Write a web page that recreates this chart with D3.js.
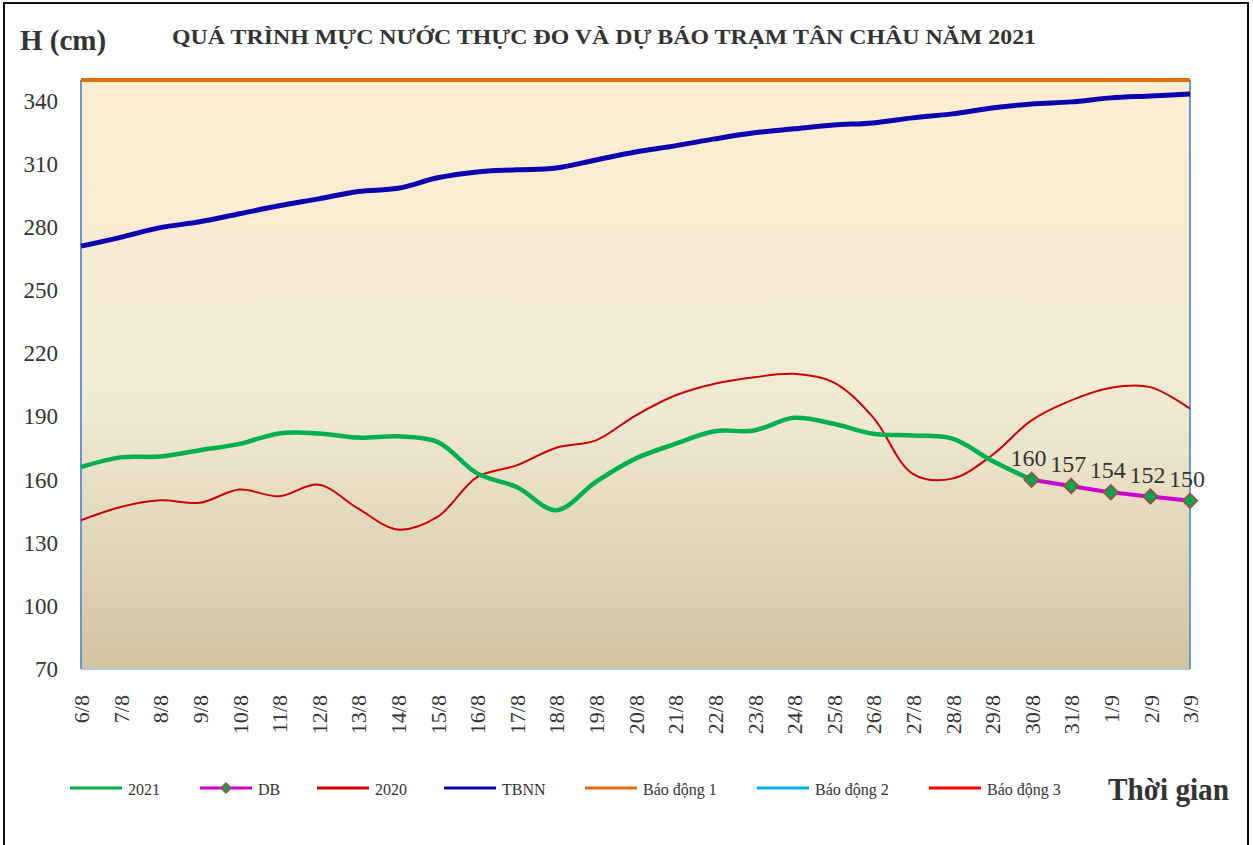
<!DOCTYPE html>
<html>
<head>
<meta charset="utf-8">
<script src="https://cdn.jsdelivr.net/npm/d3@7"></script>
<style>
  body { margin: 0; background: #fff; }
  svg text { font-family: "Liberation Serif", "Times New Roman", serif; fill: #333; }
</style>
</head>
<body>
<svg id="chart" width="1253" height="845"></svg>
<script>
// ngày quan trắc
const days = ["6/8", "7/8", "8/8", "9/8", "10/8", "11/8", "12/8", "13/8", "14/8", "15/8",
  "16/8", "17/8", "18/8", "19/8", "20/8", "21/8", "22/8", "23/8", "24/8", "25/8",
  "26/8", "27/8", "28/8", "29/8", "30/8", "31/8", "1/9", "2/9", "3/9"];

// thực đo 2021 (6/8 -> 30/8)
const h2021 = [166, 170.6, 171, 174, 177, 182, 182, 180, 180.6, 178, 163, 156.5, 145.5,
  159, 170, 177, 183, 183.4, 189.4, 186.6, 181.8, 181, 179.5, 169, 160];
// dự báo (30/8 -> 3/9)
const dbDays = ["30/8", "31/8", "1/9", "2/9", "3/9"];
const hDB = [160, 157, 154, 152, 150];
// năm 2020
const h2020 = [140.7, 147, 150.2, 149, 155.3, 152.1, 157.6, 146.2, 136.3, 142.3, 161.2,
  166.8, 175.2, 178.7, 190.5, 200, 205.6, 208.7, 210.3, 206.3, 189.6, 162.8, 160.5,
  171.6, 188.2, 197.7, 203.7, 204, 193.7];
// trung bình nhiều năm
const tbnn = [271, 275.2, 279.8, 282.6, 286.4, 290.2, 293.5, 297, 298.5, 303.5, 306.3,
  307.3, 308.2, 312, 315.8, 318.7, 322, 324.9, 326.8, 328.6, 329.6, 332, 333.9, 336.7,
  338.6, 339.6, 341.5, 342.4, 343.4];
// mức báo động
const alarms = [350, 400, 450];
const yTicks = [70, 100, 130, 160, 190, 220, 250, 280, 310, 340];

const svg = d3.select("#chart");

// khung ngoài
svg.append("rect")
  .attr("x", 4).attr("y", 3).attr("width", 1244).attr("height", 860)
  .attr("fill", "none").attr("stroke", "#111").attr("stroke-width", 2);

const x = d3.scalePoint().domain(days).range([81, 1190]);
const y = d3.scaleLinear().domain([70, 350]).range([669, 80]);

const defs = svg.append("defs");
const grad = defs.append("linearGradient")
  .attr("id", "bg").attr("x1", 0).attr("y1", 0).attr("x2", 0).attr("y2", 1);
grad.append("stop").attr("offset", "0%").attr("stop-color", "#fdeed1");
grad.append("stop").attr("offset", "55%").attr("stop-color", "#f1ead5");
grad.append("stop").attr("offset", "100%").attr("stop-color", "#d2c4a0");

defs.append("clipPath").attr("id", "clip")
  .append("rect").attr("x", 79).attr("y", 76).attr("width", 1114).attr("height", 596);

svg.append("rect")
  .attr("x", 81).attr("y", y(350)).attr("width", 1190 - 81).attr("height", y(70) - y(350))
  .attr("fill", "url(#bg)");

// trục
svg.append("line").attr("x1", 81).attr("x2", 1190).attr("y1", y(70)).attr("y2", y(70))
  .attr("stroke", "#b4c4d8").attr("stroke-width", 2);
svg.append("line").attr("x1", 81).attr("x2", 81).attr("y1", y(350)).attr("y2", y(70))
  .attr("stroke", "#6b97cf").attr("stroke-width", 2);
svg.append("line").attr("x1", 1190).attr("x2", 1190).attr("y1", y(350)).attr("y2", y(70))
  .attr("stroke", "#6b97cf").attr("stroke-width", 2);

const yAxis = svg.append("g")
  .attr("transform", "translate(58,0)")
  .call(d3.axisLeft(y).tickValues(yTicks).tickSize(0).tickPadding(0));
yAxis.select(".domain").remove();
yAxis.selectAll("text")
  .style("font-size", "23px")
  .style("font-family", "'Liberation Serif', serif")
  .attr("fill", "#333");

const xAxis = svg.append("g")
  .attr("transform", "translate(0,695)")
  .call(d3.axisBottom(x).tickSize(0));
xAxis.select(".domain").remove();
xAxis.selectAll("text")
  .style("font-size", "22px")
  .style("font-family", "'Liberation Serif', serif")
  .attr("fill", "#333")
  .attr("text-anchor", "end")
  .attr("transform", "rotate(-90)")
  .attr("x", 0)
  .attr("y", 0)
  .attr("dx", 0)
  .attr("dy", "0.35em");

const line = d3.line()
  .x((d) => x(d[0]))
  .y((d) => y(d[1]))
  .curve(d3.curveCatmullRom.alpha(0.5));

const plot = svg.append("g").attr("clip-path", "url(#clip)");

plot.append("path")
  .attr("d", line(days.map((d, i) => [d, h2020[i]])))
  .attr("fill", "none").attr("stroke", "#cc0000").attr("stroke-width", 2);

plot.append("path")
  .attr("d", line(days.map((d, i) => [d, tbnn[i]])))
  .attr("fill", "none").attr("stroke", "#0c00ae").attr("stroke-width", 5);

plot.append("path")
  .attr("d", line(h2021.map((v, i) => [days[i], v])))
  .attr("fill", "none").attr("stroke", "#00b050").attr("stroke-width", 4.5);

plot.append("path")
  .attr("d", line(dbDays.map((d, i) => [d, hDB[i]])))
  .attr("fill", "none").attr("stroke", "#cc00cc").attr("stroke-width", 4);

const alarmColors = ["#e46c0a", "#00b0f0", "#ff0000"];
alarms.forEach((a, i) => {
  plot.append("line")
    .attr("x1", 81).attr("x2", 1190).attr("y1", y(a)).attr("y2", y(a))
    .attr("stroke", alarmColors[i]).attr("stroke-width", 4);
});

const diamond = d3.symbol().type(d3.symbolSquare).size(110);
svg.selectAll(".db-pt")
  .data(dbDays.map((d, i) => [d, hDB[i]]))
  .join("path")
  .attr("class", "db-pt")
  .attr("d", diamond)
  .attr("transform", (d) => `translate(${x(d[0])},${y(d[1])}) rotate(45)`)
  .attr("fill", "#00a651").attr("stroke", "#b0443f").attr("stroke-width", 1.5);

svg.selectAll(".db-lbl")
  .data(dbDays.map((d, i) => [d, hDB[i]]))
  .join("text")
  .attr("class", "db-lbl")
  .attr("x", (d) => x(d[0]) - 3)
  .attr("y", (d) => y(d[1]) - 14)
  .attr("text-anchor", "middle")
  .style("font-size", "24px")
  .text((d) => d[1]);

// tiêu đề
svg.append("text")
  .attr("x", 20).attr("y", 50)
  .style("font-size", "29px").style("font-weight", "bold")
  .text("H (cm)");
svg.append("text")
  .attr("x", 172).attr("y", 44)
  .attr("textLength", 864).attr("lengthAdjust", "spacingAndGlyphs")
  .style("font-size", "22px").style("font-weight", "bold")
  .text("QUÁ TRÌNH MỰC NƯỚC THỰC ĐO VÀ DỰ BÁO TRẠM TÂN CHÂU NĂM 2021");
svg.append("text")
  .attr("x", 1108).attr("y", 800)
  .attr("textLength", 121).attr("lengthAdjust", "spacingAndGlyphs")
  .style("font-size", "32px").style("font-weight", "bold")
  .text("Thời gian");

// chú thích
const legendNames = ["2021", "DB", "2020", "TBNN", "Báo động 1", "Báo động 2", "Báo động 3"];
const legendColors = ["#00b050", "#cc00cc", "#cc0000", "#0c00ae", "#e46c0a", "#00b0f0", "#ff0000"];
const legendX = [70, 200, 317, 444, 585, 757, 929];

const leg = svg.append("g").selectAll("g")
  .data(legendNames)
  .join("g")
  .attr("transform", (d, i) => `translate(${legendX[i]},788)`);
leg.append("line")
  .attr("x1", 0).attr("x2", 52).attr("y1", 0).attr("y2", 0)
  .attr("stroke", (d, i) => legendColors[i]).attr("stroke-width", 3);
leg.filter((d) => d === "DB").append("path")
  .attr("d", d3.symbol().type(d3.symbolSquare).size(50))
  .attr("transform", "translate(26,0) rotate(45)")
  .attr("fill", "#00a651").attr("stroke", "#b0443f").attr("stroke-width", 1.5);
leg.append("text")
  .attr("x", 58).attr("y", 7)
  .style("font-size", "16px")
  .text((d) => d);
</script>
</body>
</html>
